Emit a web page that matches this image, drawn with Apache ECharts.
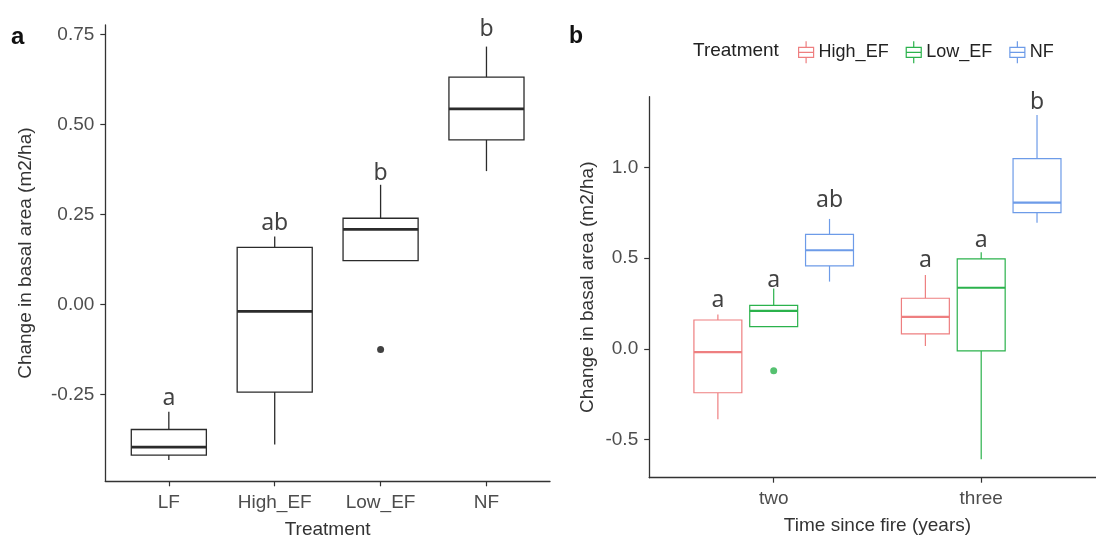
<!DOCTYPE html>
<html>
<head>
<meta charset="utf-8">
<script src="https://cdn.jsdelivr.net/npm/echarts@6/dist/echarts.min.js"></script>
<style>
html, body { margin: 0; padding: 0; background: #fff; }
#chart { width: 1096px; height: 538px; }
</style>
</head>
<body>
<div id="chart"></div>
<script>
// ---- panel a: change by treatment ----
const catsA = ["LF", "High_EF", "Low_EF", "NF"];
// [min, q1, median, q3, max]
const boxesA = [
  [-0.432, -0.418, -0.396, -0.347, -0.298],
  [-0.389, -0.243, -0.019, 0.159, 0.189],
  [0.122, 0.122, 0.209, 0.240, 0.333],
  [0.371, 0.458, 0.544, 0.632, 0.717]
];
const outliersA = [[2, -0.125]];
const lettersA = ["a", "ab", "b", "b"];
const letterYA = [-0.254, 0.231, 0.369, 0.771];
const yTicksA = [-0.25, 0, 0.25, 0.5, 0.75];

// ---- panel b: change by time since fire ----
const catsB = ["two", "three"];
const treatments = ["High_EF", "Low_EF", "NF"];
const colorsB = ["#EE7F80", "#2BB24C", "#6D9BE8"];
const highEF = [
  [-0.389, -0.243, -0.019, 0.159, 0.189],
  [0.015, 0.082, 0.176, 0.279, 0.408]
];
const lowEF = [
  [0.122, 0.122, 0.209, 0.240, 0.333],
  [-0.610, -0.012, 0.337, 0.496, 0.533]
];
const nf = [
  [0.371, 0.458, 0.544, 0.632, 0.717],
  [0.696, 0.752, 0.807, 1.050, 1.291]
];
const outliersLowEF = [[0, -0.122]];
const lettersB = [["a", "a"], ["a", "a"], ["ab", "b"]];
const letterYB = [[0.279, 0.500], [0.389, 0.610], [0.831, 1.374]];
const yTicksB = [-0.5, 0, 0.5, 1.0];

const boxesB = [highEF, lowEF, nf];
const dodgeB = [-0.269, 0, 0.269];

const FONT = "Liberation Sans";
const AXIS_COLOR = "#333";

// ggplot-like box: no whisker caps, thicker median
function boxRenderer(offset, width, color, lw, mw) {
  return function (params, api) {
    const x = api.value(0);
    const unit = api.size([1, 0])[0];
    const cx = api.coord([x + offset, 0])[0];
    const half = unit * width / 2;
    const py = (i) => api.coord([x, api.value(i)])[1];
    const yMin = py(1), yQ1 = py(2), yMed = py(3), yQ3 = py(4), yMax = py(5);
    const line = { stroke: color, lineWidth: lw };
    return {
      type: "group",
      children: [
        { type: "line", shape: { x1: cx, y1: yMax, x2: cx, y2: yQ3 }, style: line },
        { type: "line", shape: { x1: cx, y1: yQ1, x2: cx, y2: yMin }, style: line },
        { type: "rect", shape: { x: cx - half, y: yQ3, width: half * 2, height: yQ1 - yQ3 },
          style: { fill: "#fff", stroke: color, lineWidth: lw } },
        { type: "line", shape: { x1: cx - half, y1: yMed, x2: cx + half, y2: yMed },
          style: { stroke: color, lineWidth: mw } }
      ]
    };
  };
}

function letterSeries(name, xIdx, yIdx, data) {
  return {
    name: name,
    type: "scatter",
    xAxisIndex: xIdx,
    yAxisIndex: yIdx,
    symbolSize: 1,
    itemStyle: { color: "rgba(0,0,0,0)" },
    label: {
      show: true,
      position: "inside",
      offset: [0, 2],
      formatter: "{b}",
      color: "#111",
      fontSize: 23,
      fontFamily: "Noto Sans"
    },
    data: data
  };
}

function xAxisCfg(gridIndex, cats, min, max, name, nameGap) {
  const ticks = cats.map((c, i) => i);
  return {
    gridIndex: gridIndex,
    type: "value",
    min: min,
    max: max,
    name: name,
    nameLocation: "middle",
    nameGap: nameGap,
    nameTextStyle: { fontSize: 19, fontFamily: FONT, color: AXIS_COLOR },
    axisLine: { show: true, onZero: false, lineStyle: { color: AXIS_COLOR, width: 1.3 } },
    axisTick: { show: true, length: 5, customValues: ticks, lineStyle: { color: AXIS_COLOR, width: 1.2 } },
    axisLabel: {
      show: true,
      customValues: ticks,
      margin: 12,
      fontSize: 19,
      fontFamily: FONT,
      color: "#4d4d4d",
      formatter: (v) => cats[Math.round(v)]
    },
    splitLine: { show: false }
  };
}

function yAxisCfg(gridIndex, min, max, ticks, digits, nameGap) {
  return {
    gridIndex: gridIndex,
    type: "value",
    min: min,
    max: max,
    name: "Change in basal area (m2/ha)",
    nameLocation: "middle",
    nameRotate: 90,
    nameGap: nameGap,
    nameTextStyle: { fontSize: 19, fontFamily: FONT, color: AXIS_COLOR },
    axisLine: { show: true, onZero: false, lineStyle: { color: AXIS_COLOR, width: 1.3 } },
    axisTick: { show: true, length: 5, customValues: ticks, lineStyle: { color: AXIS_COLOR, width: 1.2 } },
    axisLabel: {
      show: true,
      customValues: ticks,
      margin: 11,
      fontSize: 19,
      fontFamily: FONT,
      color: "#4d4d4d",
      formatter: (v) => v.toFixed(digits)
    },
    splitLine: { show: false }
  };
}

const series = [];

// panel a boxes
series.push({
  name: "all treatments",
  type: "custom",
  xAxisIndex: 0,
  yAxisIndex: 0,
  renderItem: boxRenderer(0, 0.709, "#2b2b2b", 1.3, 2.8),
  encode: { x: 0, y: [1, 2, 3, 4, 5] },
  data: boxesA.map((b, i) => [i].concat(b))
});
series.push({
  name: "outliers a",
  type: "scatter",
  xAxisIndex: 0,
  yAxisIndex: 0,
  symbolSize: 7,
  itemStyle: { color: "#111" },
  data: outliersA
});
series.push(letterSeries("letters a", 0, 0,
  lettersA.map((t, i) => ({ name: t, value: [i, letterYA[i]] }))));

// panel b boxes, dodged per treatment
treatments.forEach((t, k) => {
  series.push({
    name: t,
    type: "custom",
    xAxisIndex: 1,
    yAxisIndex: 1,
    itemStyle: { color: colorsB[k], borderColor: colorsB[k] },
    renderItem: boxRenderer(dodgeB[k], 0.231, colorsB[k], 1.2, 2.2),
    encode: { x: 0, y: [1, 2, 3, 4, 5] },
    data: boxesB[k].map((b, i) => [i].concat(b))
  });
  series.push(letterSeries("letters " + t, 1, 1,
    lettersB[k].map((s, i) => ({ name: s, value: [i + dodgeB[k], letterYB[k][i]] }))));
});
series.push({
  name: "outliers b",
  type: "scatter",
  xAxisIndex: 1,
  yAxisIndex: 1,
  symbolSize: 7,
  itemStyle: { color: colorsB[1] },
  data: outliersLowEF
});

const boxIcon = "path://M7.5,0L7.5,6M0,6L15,6L15,16L0,16ZM0,11L15,11M7.5,16L7.5,22";

const option = {
  animation: false,
  backgroundColor: "#fff",
  grid: [
    { left: 105.3, top: 25, width: 444.7, height: 456.3, outerBoundsMode: "none" },
    { left: 649.2, top: 96.7, width: 456.5, height: 381, outerBoundsMode: "none" }
  ],
  xAxis: [
    xAxisCfg(0, catsA, -0.6, 3.6, "Treatment", 39),
    xAxisCfg(1, catsB, -0.6, 1.6, "Time since fire (years)", 39)
  ],
  yAxis: [
    yAxisCfg(0, -0.491, 0.777, yTicksA, 2, 70.5),
    yAxisCfg(1, -0.712, 1.392, yTicksB, 1, 52)
  ],
  legend: {
    left: 798,
    top: 40.7,
    padding: 0,
    itemWidth: 15,
    itemHeight: 22,
    itemGap: 17,
    selectedMode: false,
    textStyle: { fontSize: 18, fontFamily: FONT, color: "#222" },
    data: treatments.map((t, k) => ({
      name: t,
      icon: boxIcon,
      itemStyle: { color: "rgba(255,255,255,0)", borderColor: colorsB[k], borderWidth: 1.2 }
    }))
  },
  graphic: [
    { type: "text", left: 11, top: 25,
      style: { text: "a", fontSize: 24, fontWeight: "bold", fontFamily: FONT, fill: "#111" } },
    { type: "text", left: 569, top: 25,
      style: { text: "b", fontSize: 23, fontWeight: "bold", fontFamily: FONT, fill: "#111" } },
    { type: "text", left: 693, top: 41,
      style: { text: "Treatment", fontSize: 19, fontFamily: FONT, fill: "#222" } }
  ],
  series: series
};

const chart = echarts.init(document.getElementById("chart"));
chart.setOption(option);
</script>
</body>
</html>
